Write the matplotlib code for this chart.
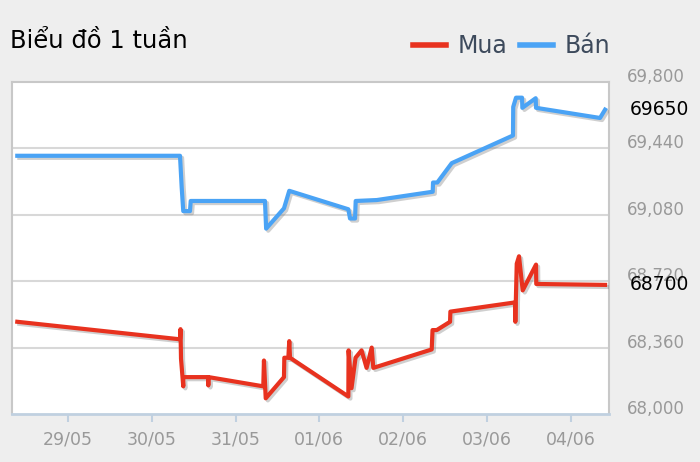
import matplotlib
matplotlib.use("Agg")
import matplotlib.pyplot as plt
import matplotlib.patheffects as pe
from matplotlib.transforms import ScaledTranslation, blended_transform_factory

# time in days from 29/05 00:00, price in VND
ban_t = [-0.605, 1.337, 1.357, 1.376, 1.456, 1.465, 2.351, 2.365, 2.578, 2.641,
         3.346, 3.366, 3.426, 3.434, 3.685, 4.353, 4.357, 4.408, 4.580, 5.311,
         5.314, 5.347, 5.419, 5.423, 5.582, 5.586, 6.350, 6.410]
ban_v = [69400, 69400, 69230, 69100, 69100, 69155, 69155, 69005, 69115, 69210,
         69110, 69060, 69060, 69155, 69160, 69205, 69255, 69255, 69360, 69510,
         69665, 69715, 69715, 69660, 69712, 69660, 69605, 69650]

mua_t = [-0.605, 1.337, 1.343, 1.349, 1.376, 1.376, 1.671, 1.675, 1.678, 2.331,
         2.339, 2.360, 2.578, 2.582, 2.630, 2.641, 2.650, 3.346, 3.349, 3.384,
         3.432, 3.504, 3.564, 3.625, 3.644, 4.341, 4.351, 4.401, 4.560, 4.564,
         5.335, 5.339, 5.356, 5.383, 5.427, 5.586, 5.589, 6.410]
mua_v = [68500, 68405, 68460, 68300, 68150, 68200, 68200, 68155, 68200, 68150,
         68290, 68085, 68200, 68305, 68305, 68395, 68305, 68095, 68345, 68140,
         68305, 68345, 68250, 68360, 68250, 68350, 68455, 68455, 68500, 68555,
         68605, 68500, 68815, 68855, 68670, 68810, 68705, 68700]

day_ticks = [0, 1, 2, 3, 4, 5, 6]
day_labels = ["29/05", "30/05", "31/05", "01/06", "02/06", "03/06", "04/06"]
price_ticks = [68000, 68360, 68720, 69080, 69440, 69800]
last_ban = 69650
last_mua = 68700

red = "#e8321f"
blue = "#4aa3f5"

fig = plt.figure(figsize=(7, 4.62), dpi=100, facecolor="#eeeeee")
ax = fig.add_axes([12 / 700, 1 - 414 / 462, 597 / 700, 332 / 462])
ax.set_facecolor("white")

shadow = [pe.SimpleLineShadow(offset=(1.5, -1.5), shadow_color="#777777", alpha=0.35), pe.Normal()]
l_mua, = ax.plot(mua_t, mua_v, color=red, lw=3, label="Mua", path_effects=shadow, zorder=3)
l_ban, = ax.plot(ban_t, ban_v, color=blue, lw=3, label="Bán", path_effects=shadow, zorder=3)

ax.set_xlim(-0.668, 6.457)
ax.set_ylim(68000, 69800)

for y in price_ticks[1:-1]:
    ax.axhline(y, color="#d8d8d8", lw=1.5, zorder=1)

ax.set_xticks(day_ticks)
ax.set_xticklabels(day_labels)
ax.tick_params(axis="x", length=6, width=1.5, color="#c0d0e0", labelcolor="#999999",
               labelsize=12.5, pad=6)

ax.yaxis.tick_right()
ax.set_yticks(price_ticks)
ax.set_yticklabels([f"{v:,}" for v in price_ticks])
ax.tick_params(axis="y", length=0, labelcolor="#999999", labelsize=12, pad=13)
for lab in ax.get_yticklabels():
    lab.set_transform(lab.get_transform() + ScaledTranslation(0, 7 / 100, fig.dpi_scale_trans))

for side in ["top", "right", "left"]:
    ax.spines[side].set_color("#c8c8c8")
    ax.spines[side].set_linewidth(1.5)
ax.spines["bottom"].set_color("#c0d0e0")
ax.spines["bottom"].set_linewidth(2)

trans = blended_transform_factory(ax.transAxes, ax.transData)
ax.text(1 + 21 / 597, last_ban, str(last_ban), transform=trans, va="center", ha="left",
        fontsize=13.5, color="black")
ax.text(1 + 21 / 597, last_mua, str(last_mua), transform=trans, va="center", ha="left",
        fontsize=13.5, color="black")

fig.text(10 / 700, 1 - 41 / 462, "Biểu đồ 1 tuần", fontsize=17.5, color="black",
         va="center", ha="left")

leg = fig.legend(handles=[l_mua, l_ban], loc="center right", bbox_to_anchor=(610 / 700, 1 - 46 / 462),
                 ncol=2, frameon=False, fontsize=17, handlelength=1.4, handletextpad=0.5,
                 columnspacing=0.5, borderaxespad=0, borderpad=0, labelcolor="#3d4a5c")
for h in leg.legend_handles:
    h.set_linewidth(4)
    h.set_path_effects([])

fig.savefig("out.png", dpi=100, facecolor=fig.get_facecolor())
